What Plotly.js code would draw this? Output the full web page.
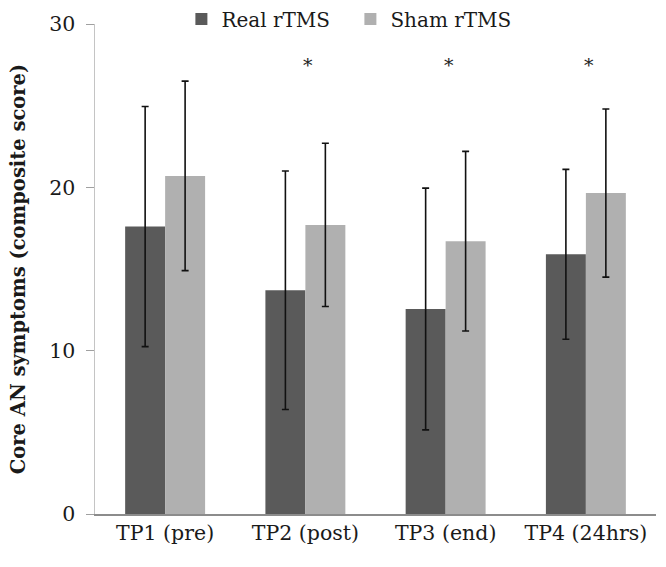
<!DOCTYPE html>
<html>
<head>
<meta charset="utf-8">
<script src="https://cdn.plot.ly/plotly-3.0.1.min.js"></script>
<style>html,body{margin:0;padding:0;background:#fff;}#chart{width:666px;height:567px;}</style>
</head>
<body>
<div id="chart"></div>
<script>
var categories = ["TP1 (pre)", "TP2 (post)", "TP3 (end)", "TP4 (24hrs)"];
var realMeans = [17.6, 13.7, 12.55, 15.9];
var realErr = [7.35, 7.3, 7.4, 5.2];
var shamMeans = [20.7, 17.7, 16.7, 19.65];
var shamErr = [5.8, 5.0, 5.5, 5.15];
var sigCategories = ["TP2 (post)", "TP3 (end)", "TP4 (24hrs)"];
var sigLabel = "*";
var yTicks = [0, 10, 20, 30];

var fontFam = "DejaVu Serif, Liberation Serif, serif";

var traces = [
  {
    type: "bar", name: "Real rTMS", x: categories, y: realMeans,
    marker: {color: "#5a5a5a"},
    error_y: {type: "data", array: realErr, visible: true, color: "#111", thickness: 1.6, width: 3.5}
  },
  {
    type: "bar", name: "Sham rTMS", x: categories, y: shamMeans,
    marker: {color: "#b0b0b0"},
    error_y: {type: "data", array: shamErr, visible: true, color: "#111", thickness: 1.6, width: 3.5}
  }
];

var annotations = sigCategories.map(function (c) {
  return {x: c, y: 27.5, xref: "x", yref: "y", text: sigLabel, showarrow: false,
          xshift: 3, font: {family: fontFam, size: 19, color: "#222"}};
});

var layout = {
  width: 666, height: 567,
  margin: {l: 95, r: 10, t: 24, b: 53, autoexpand: false},
  paper_bgcolor: "#fff", plot_bgcolor: "#fff",
  barmode: "group", bargap: 0.43, bargroupgap: 0,
  font: {family: fontFam, size: 20, color: "#1a1a1a"},
  showlegend: true,
  legend: {orientation: "h", x: 0.154, xanchor: "left", y: 1.01, yanchor: "middle",
           font: {family: fontFam, size: 20, color: "#1a1a1a"},
           entrywidth: 124, entrywidthmode: "pixels", bgcolor: "rgba(0,0,0,0)"},
  xaxis: {
    type: "category", range: [-0.5, 3.5],
    showline: true, linecolor: "#8c8c8c", linewidth: 1.5,
    ticks: "", showgrid: false, zeroline: false,
    tickfont: {family: fontFam, size: 20.5, color: "#1a1a1a"}
  },
  yaxis: {
    range: [0, 30], tickvals: yTicks, ticktext: yTicks.map(String),
    showline: true, linecolor: "#c4c4c4", linewidth: 1.5,
    ticks: "outside", ticklen: 8, tickcolor: "#a0a0a0", tickwidth: 1,
    ticklabelstandoff: 6,
    showgrid: false, zeroline: false,
    tickfont: {family: fontFam, size: 20.5, color: "#1a1a1a"},
    title: {text: "Core AN symptoms (composite score)", standoff: 18,
            font: {family: fontFam, size: 19.5, color: "#1a1a1a", weight: "bold"}}
  },
  annotations: annotations
};

Plotly.newPlot("chart", traces, layout, {displayModeBar: false, staticPlot: true});
</script>
</body>
</html>
